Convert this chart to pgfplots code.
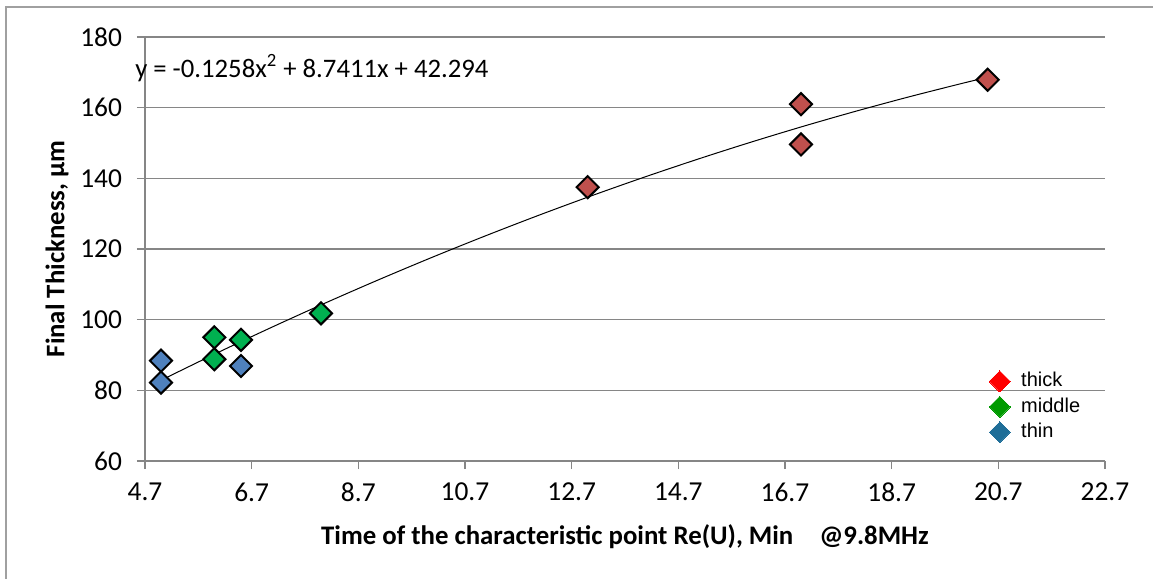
\documentclass[border=0pt]{standalone}
\usepackage{pgfplots}
\pgfplotsset{compat=1.18}
\usepackage{fontspec}
\setmainfont{Carlito}
\newfontfamily\arialf{Liberation Sans}
\definecolor{axgray}{HTML}{868686}
\definecolor{framegray}{HTML}{A0A0A0}
\definecolor{thickc}{HTML}{C0504D}
\definecolor{middlec}{HTML}{00B050}
\definecolor{thinc}{HTML}{4F81BD}
\definecolor{lthick}{HTML}{FF0000}
\definecolor{lmiddle}{HTML}{009A00}
\definecolor{lthin}{HTML}{1F6E98}
\begin{document}
\begin{tikzpicture}
\begin{axis}[
  at={(0,0)}, anchor=origin,
  scale only axis, width=480pt, height=212pt,
  xmin=4.7, xmax=22.7, ymin=60, ymax=180,
  xtick={4.7,6.7,8.7,10.7,12.7,14.7,16.7,18.7,20.7,22.7},
  ytick={60,80,100,120,140,160,180},
  xticklabel style={yshift=-3.5pt, /pgf/number format/.cd, fixed, fixed zerofill, precision=1},
  /pgf/number format/assume math mode=true,
  tick label style={font=\fontsize{13.7}{16}\selectfont, color=black},
  yticklabel style={xshift=-4pt},
  axis x line*=bottom, axis y line*=left,
  axis line style={axgray, line width=0.6pt},
  tick style={axgray, line width=0.6pt},
  tick align=outside, major tick length=4pt,
  ymajorgrids, grid style={axgray, line width=0.6pt},
  xlabel={\bfseries Time of the characteristic point Re(U), Min\hspace{10pt} @9.8MHz},
  ylabel={\bfseries Final Thickness, µm},
  label style={font=\fontsize{13.4}{16}\selectfont},
  xlabel style={at={(axis description cs:0.5,0)}, anchor=center, yshift=-38pt},
  ylabel style={at={(axis description cs:0,0.5)}, anchor=center, yshift=44pt},
  clip=false,
  legend style={at={(rel axis cs:0.877,0.221)}, anchor=north west, draw=none, fill=none,
    font=\arialf\fontsize{10}{12}\selectfont, row sep=1pt, column sep=4.5pt, inner sep=1pt,
    nodes={text height=7.5pt, text depth=2.2pt, inner sep=1pt}},
  legend cell align=left,
]
\addlegendimage{only marks, mark=square*, mark options={rotate=45, fill=lthick, draw=lthick, line width=0pt}, mark size=3.7pt}
\addlegendentry{thick}
\addlegendimage{only marks, mark=square*, mark options={rotate=45, fill=lmiddle, draw=lmiddle, line width=0pt}, mark size=3.7pt}
\addlegendentry{middle}
\addlegendimage{only marks, mark=square*, mark options={rotate=45, fill=lthin, draw=lthin, line width=0pt}, mark size=3.7pt}
\addlegendentry{thin}
% trendline
\addplot[black, line width=0.5pt, smooth, no marks, forget plot] coordinates {
(5,82.8545) (6,90.2118) (7,97.3175) (8,104.1716) (9,110.7741) (10,117.125)
(11,123.2243) (12,129.072) (13,134.6681) (14,140.0126) (15,145.1055)
(16,149.9468) (17,154.5365) (18,158.8746) (19,162.9611) (20,166.796) (20.5,168.619)};
% thin
\addplot[only marks, mark=square*, mark size=3.9pt, mark options={rotate=45, fill=thinc, draw=black, line width=1pt}, forget plot] coordinates {
(5.0,88.4) (5.0,82.2) (6.5,86.9)};
% middle
\addplot[only marks, mark=square*, mark size=3.9pt, mark options={rotate=45, fill=middlec, draw=black, line width=1pt}, forget plot] coordinates {
(6.0,95.0) (6.0,88.8) (6.5,94.3) (8.0,101.8)};
% thick
\addplot[only marks, mark=square*, mark size=3.9pt, mark options={rotate=45, fill=thickc, draw=black, line width=1pt}, forget plot] coordinates {
(13.0,137.5) (17.0,161.0) (17.0,149.6) (20.5,167.9)};
\node[anchor=west, font=\fontsize{13.35}{15}\selectfont, inner sep=0pt] at (axis cs:4.51,171.2) {y = -0.1258x\textsuperscript{2} + 8.7411x + 42.294};
\end{axis}
\pgfresetboundingbox
\useasboundingbox (-72.5pt,-59pt) rectangle (504pt,230.5pt);
\draw[framegray, line width=1.2pt] (-69.5pt,-60pt) -- (-69.5pt,227pt) -- (505pt,227pt);
\end{tikzpicture}
\end{document}
